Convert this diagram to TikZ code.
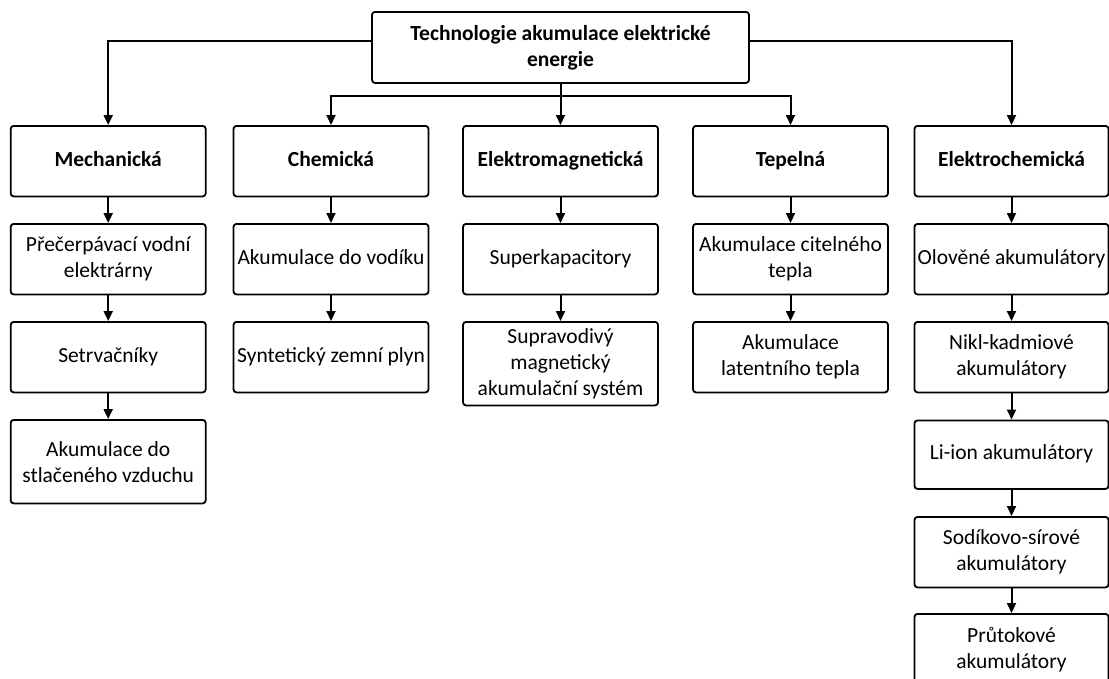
\documentclass[tikz,border=0pt]{standalone}
\usepackage{fontspec}
\setmainfont{Carlito}
\usetikzlibrary{arrows.meta}
\begin{document}
\begin{tikzpicture}[x=1pt,y=-1pt,
  box/.style={draw=black, line width=1.8pt, rounded corners=3pt, minimum width=195pt, minimum height=70.5pt, inner sep=2pt, align=center, font=\fontsize{21.5}{26}\selectfont, anchor=north},
  head/.style={box, font=\fontsize{21.5}{26}\selectfont\bfseries},
  one/.style={text height=15.5pt, text depth=5pt},
  tall/.style={minimum height=83.5pt},
  arr/.style={draw=black, line width=2pt, -{Triangle[length=10pt,width=9pt]}},
  ln/.style={draw=black, line width=2pt}]
\useasboundingbox (0,0) rectangle (1109,678);
\fill[white] (0,0) rectangle (1109,678);

\node[head, minimum width=377pt, minimum height=71pt] (top) at (560.5,11) {Technologie akumulace elektrické\\energie};

\node[head, one] (mech) at (108.2,125) {Mechanická};
\node[head, one] (chem) at (331,125) {Chemická};
\node[head, one] (elm)  at (560.5,125) {Elektromagnetická};
\node[head, one] (tep)  at (790.5,125) {Tepelná};
\node[head, one, minimum width=194pt] (elch) at (1011.5,125) {Elektrochemická};

\node[box] (m1) at (108.2,223) {Přečerpávací vodní\\elektrárny};
\node[box, one] (m2) at (108.2,321) {Setrvačníky};
\node[box, tall] (m3) at (108.2,419) {Akumulace do\\stlačeného vzduchu};

\node[box, one] (c1) at (331,223) {Akumulace do vodíku};
\node[box, one] (c2) at (331,321) {Syntetický zemní plyn};

\node[box, one] (e1) at (560.5,223) {Superkapacitory};
\node[box, tall] (e2) at (560.5,321) {Supravodivý\\magnetický\\akumulační systém};

\node[box] (t1) at (790.5,223) {Akumulace citelného\\tepla};
\node[box] (t2) at (790.5,321) {Akumulace\\latentního tepla};

\node[box, one, minimum width=194pt] (o1) at (1011.5,223) {Olověné akumulátory};
\node[box, minimum width=194pt] (o2) at (1011.5,321) {Nikl-kadmiové\\akumulátory};
\node[box, one, minimum width=194pt, minimum height=68.5pt] (o3) at (1011.5,419.5) {Li-ion akumulátory};
\node[box, minimum width=194pt] (o4) at (1011.5,516) {Sodíkovo-sírové\\akumulátory};
\node[box, minimum width=194pt] (o5) at (1011.5,613) {Průtokové\\akumulátory};

\draw[arr] ([yshift=6.5pt]top.west) -| (mech.north);
\draw[arr] ([yshift=6.5pt]top.east) -| (elch.north);
\coordinate (split) at (560.5,96);
\draw[ln] (top.south) -- (split);
\draw[arr] (split) -| (chem.north);
\draw[arr] (split) -| (tep.north);
\draw[arr] (split) -- (elm.north);

\draw[arr] (mech) -- (m1);
\draw[arr] (m1) -- (m2);
\draw[arr] (m2) -- (m3);
\draw[arr] (chem) -- (c1);
\draw[arr] (c1) -- (c2);
\draw[arr] (elm) -- (e1);
\draw[arr] (e1) -- (e2);
\draw[arr] (tep) -- (t1);
\draw[arr] (t1) -- (t2);
\draw[arr] (elch) -- (o1);
\draw[arr] (o1) -- (o2);
\draw[arr] (o2) -- (o3);
\draw[arr] (o3) -- (o4);
\draw[arr] (o4) -- (o5);
\end{tikzpicture}
\end{document}
